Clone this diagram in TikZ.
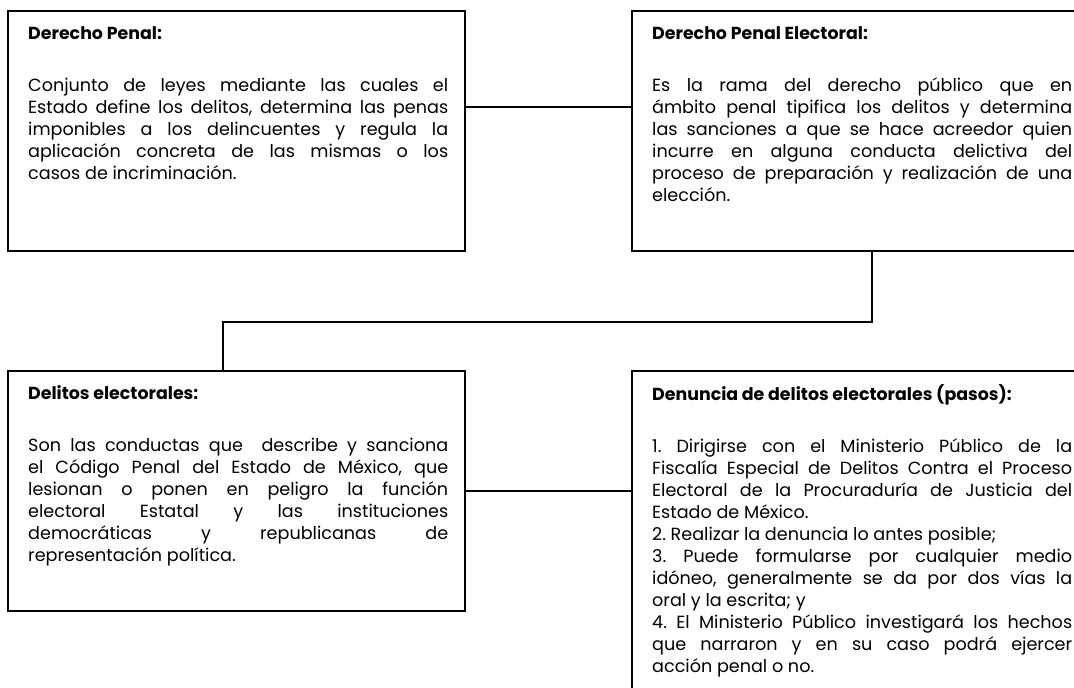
\documentclass[tikz,border=0pt]{standalone}
\usepackage{fontspec}
\setmainfont{Poppins}
\frenchspacing
\newcommand\mybody{\fontsize{17.6}{22}\selectfont\tolerance=10000\hbadness=10000\frenchspacing}
\newcommand\mytitle{\rule{0pt}{15pt}\bfseries\fontsize{17.4}{22}\selectfont}
\begin{document}
\begin{tikzpicture}[x=1pt,y=-1pt,
  box/.style={draw=black,line width=1.7pt,rectangle,inner sep=0pt,anchor=north west},
  txt/.style={anchor=north west,inner sep=0pt,text width=420pt,align=justify,font=\mybody},
  link/.style={draw=black,line width=1.7pt}]
\useasboundingbox[fill=white] (0,0) rectangle (1074,688);
\node[box,minimum width=457pt,minimum height=240pt] (b1) at (7,10) {};
\node[box,minimum width=457pt,minimum height=240pt] (b2) at (631,10) {};
\node[box,minimum width=457pt,minimum height=240pt] (b3) at (7,370) {};
\node[box,minimum width=457pt,minimum height=340pt] (b4) at (631,370) {};

\node[txt] (t1) at ([xshift=21pt,yshift=-14pt]b1.north west) {%
{\mytitle Derecho Penal:}\\[30pt]
Conjunto de leyes mediante las cuales el\linebreak
Estado define los delitos, determina las penas\linebreak
imponibles a los delincuentes y regula la\linebreak
aplicación concreta de las mismas o los\linebreak
casos de incriminación.};

\node[txt] (t2) at ([xshift=21pt,yshift=-14pt]b2.north west) {%
{\mytitle Derecho Penal Electoral:}\\[30pt]
Es la rama del derecho público que en\linebreak
ámbito penal tipifica los delitos y determina\linebreak
las sanciones a que se hace acreedor quien\linebreak
incurre en alguna conducta delictiva del\linebreak
proceso de preparación y realización de una\linebreak
elección.};

\node[txt] (t3) at ([xshift=21pt,yshift=-14pt]b3.north west) {%
{\mytitle Delitos electorales:}\\[30pt]
Son las conductas que\ \ describe y sanciona\linebreak
el Código Penal del Estado de México, que\linebreak
lesionan o ponen en peligro la función\linebreak
electoral Estatal y las instituciones\linebreak
democráticas y republicanas de\linebreak
representación política.};

\node[txt] (t4) at ([xshift=21pt,yshift=-14pt]b4.north west) {%
{\mytitle Denuncia de delitos electorales (pasos):}\\[30pt]
1. Dirigirse con el Ministerio Público de la\linebreak
Fiscalía Especial de Delitos Contra el Proceso\linebreak
Electoral de la Procuraduría de Justicia del\linebreak
Estado de México.\\
2. Realizar la denuncia lo antes posible;\\
3. Puede formularse por cualquier medio\linebreak
idóneo, generalmente se da por dos vías la\linebreak
oral y la escrita; y\\
4. El Ministerio Público investigará los hechos\linebreak
que narraron y en su caso podrá ejercer\linebreak
acción penal o no.};

\draw[link] ([yshift=24pt]b1.east) -- ([yshift=24pt]b1.east -| b2.west);
\draw[link] (b2.south -| 872,0) |- (223,322) -- (b3.north -| 223,0);
\draw[link] (b3.east) -- (b3.east -| b4.west);
\end{tikzpicture}
\end{document}
